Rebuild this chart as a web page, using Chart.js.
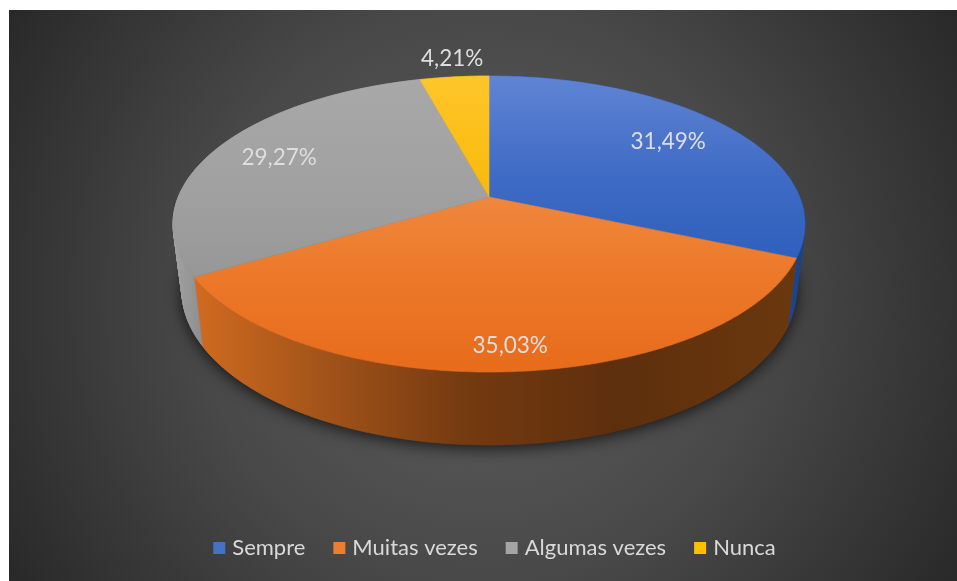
<!DOCTYPE html>
<html><head><meta charset="utf-8">
<style>html,body{margin:0;padding:0;background:#fff}canvas{display:block}</style>
<script src="https://cdn.jsdelivr.net/npm/chart.js@4"></script></head>
<body><canvas id="c" width="957" height="581"></canvas>
<script>
const categories = ["Sempre", "Muitas vezes", "Algumas vezes", "Nunca"];
const percentValues = [31.49, 35.03, 29.27, 4.21];
const legendColors = ["#4472c4", "#ed7d31", "#a5a5a5", "#ffc000"];

// perspective disc: apex (489,197), back rim y=76, front rim y=372, half-width 316
const CX = 489, CY = 197, KX = 310.7, KY = 143.1, PERSP = -0.1824;
function topRim(a, r) {
  const X = Math.cos(a) * r, Y = Math.sin(a) * r, w = 1 + PERSP * Y;
  return [CX + KX * X / w, CY + KY * Y / w];
}
function baseRim(a, r) {
  const p = topRim(a, r);
  return [CX + (p[0] - CX) * 0.972, 445 + (p[1] - 372) * 1.045];
}
function grad(ctx, x0, y0, x1, y1, stops) {
  const g = ctx.createLinearGradient(x0, y0, x1, y1);
  stops.forEach(s => g.addColorStop(s[0], s[1]));
  return g;
}
const faceStyles = [
  { y0: 76, y1: 258, stops: [[0, "#5f84d4"], [0.55, "#3f6bc5"], [1, "#2e60bd"]] },
  { y0: 197, y1: 372, stops: [[0, "#ef873d"], [0.5, "#ec7728"], [1, "#e76c1c"]] },
  { y0: 80, y1: 276, stops: [[0, "#a8a8a8"], [0.6, "#a0a0a0"], [1, "#979797"]] },
  { y0: 76, y1: 197, stops: [[0, "#ffc62a"], [1, "#f8b90a"]] }
];
const wallStyles = [
  { x0: 780, x1: 806, stops: [[0, "#1f4a96"], [1, "#1a3f85"]] },
  { x0: 195, x1: 797, stops: [[0, "#d06a20"], [0.2, "#a5551a"], [0.45, "#743a10"], [0.7, "#5e2f0d"], [1, "#6a380e"]] },
  { x0: 173, x1: 205, stops: [[0, "#a2a2a2"], [1, "#8c8c8c"]] },
  { x0: 420, x1: 490, stops: [[0, "#a07a08"], [1, "#a07a08"]] }
];
const labelRadius = [0.755, 0.875, 0.76, 1.18];
const labelNudge = [-3, 1, -2, 3];

const disc3d = {
  id: "disc3d",
  beforeDraw(chart) {
    const c = chart.ctx;
    c.save();
    c.fillStyle = "#fff"; c.fillRect(0, 0, 957, 581);
    const g = c.createRadialGradient(483, 296, 20, 483, 296, 560);
    g.addColorStop(0, "#5e5e5e"); g.addColorStop(0.5, "#484848"); g.addColorStop(1, "#282828");
    c.fillStyle = g; c.fillRect(9, 10, 948, 571);
    c.restore();
  },
  beforeDatasetDraw(chart, args) {
    const c = chart.ctx, arcs = chart.getDatasetMeta(args.index).data;
    const steps = (a0, a1) => Math.max(8, Math.ceil(Math.abs(a1 - a0) * 90));
    c.save();
    // soft shadow under the base
    c.save();
    c.shadowColor = "rgba(0,0,0,0.75)"; c.shadowBlur = 16; c.shadowOffsetY = 3;
    c.fillStyle = "#222"; c.beginPath();
    for (let i = 0; i <= 360; i++) {
      const p = baseRim(i * Math.PI / 180, 1);
      c.lineTo(p[0], p[1]);
    }
    c.closePath(); c.fill();
    c.restore();
    // side walls: swept quads between the two rims, so the silhouette is the true hull
    arcs.forEach((el, i) => {
      const n = steps(el.startAngle, el.endAngle), d = (el.endAngle - el.startAngle) / n, w = wallStyles[i];
      c.fillStyle = c.strokeStyle = grad(c, w.x0, 0, w.x1, 0, w.stops);
      c.lineWidth = 0.7;
      c.beginPath();
      for (let k = 0; k < n; k++) {
        const a = el.startAngle + k * d, b = a + d;
        const q = [topRim(a, 1), topRim(b, 1), baseRim(b, 1), baseRim(a, 1)];
        c.moveTo(q[0][0], q[0][1]);
        for (let j = 1; j < 4; j++) c.lineTo(q[j][0], q[j][1]);
        c.closePath();
      }
      c.stroke();
      c.fill();
    });
    // top faces
    arcs.forEach((el, i) => {
      const n = steps(el.startAngle, el.endAngle), f = faceStyles[i];
      c.beginPath();
      c.moveTo(CX, CY);
      for (let k = 0; k <= n; k++) {
        const p = topRim(el.startAngle + (el.endAngle - el.startAngle) * k / n, 1);
        c.lineTo(p[0], p[1]);
      }
      c.closePath();
      c.fillStyle = grad(c, 0, f.y0, 0, f.y1, f.stops);
      c.fill();
      c.strokeStyle = c.fillStyle; c.lineWidth = 0.6; c.stroke();
    });
    // value labels
    c.font = "22.5px Lato"; c.textAlign = "center"; c.textBaseline = "middle";
    c.fillStyle = "#dedede";
    arcs.forEach((el, i) => {
      const p = topRim((el.startAngle + el.endAngle) / 2, labelRadius[i]);
      c.fillText(percentValues[i].toFixed(2).replace(".", ",") + "%", p[0] + labelNudge[i], p[1]);
    });
    c.restore();
    return false;
  }
};

new Chart(document.getElementById("c"), {
  type: "pie",
  data: { labels: categories, datasets: [{ data: percentValues, backgroundColor: legendColors, borderWidth: 0 }] },
  plugins: [disc3d],
  options: {
    responsive: false, animation: false,
    layout: { padding: { bottom: 12, left: 36 } },
    plugins: {
      tooltip: { enabled: false },
      legend: {
        position: "bottom",
        labels: {
          color: "#d9d9d9", font: { family: "Lato", size: 22 },
          usePointStyle: true, pointStyle: "rect", boxWidth: 4, boxHeight: 12, padding: 32
        }
      }
    }
  }
});
</script></body></html>
